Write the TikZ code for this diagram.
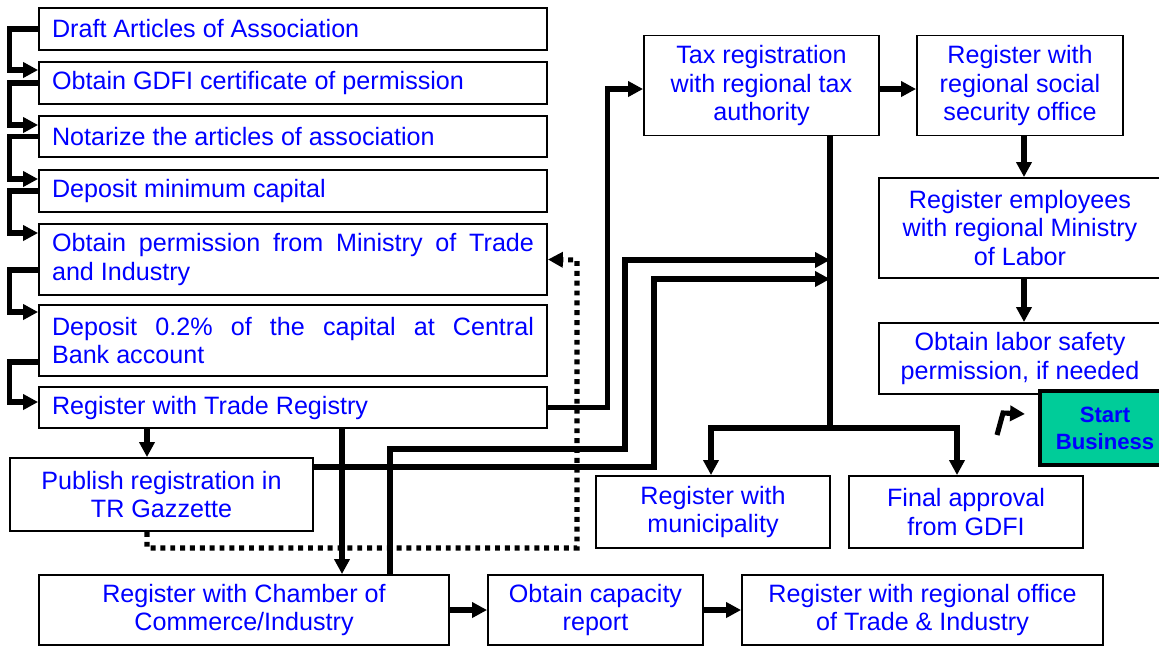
\documentclass[tikz,border=0pt]{standalone}
\usepackage{fontspec}
\setmainfont{Liberation Sans}
\usetikzlibrary{arrows.meta}
\definecolor{stepblue}{RGB}{0,0,255}
\definecolor{startgreen}{RGB}{0,204,153}
\tikzset{
  box/.style={draw, line width=1.1pt, fill=white, text=stepblue, inner sep=0pt,
    font=\fontsize{14.3}{16.4}\selectfont},
  leftbox/.style={box, minimum width=10.16cm, text width=9.64cm, align=justify},
  midbox/.style={box, align=center},
  startbox/.style={draw, line width=2.3pt, fill=startgreen, text=stepblue,
    align=center, inner sep=0pt, minimum width=2.6cm, minimum height=1.48cm,
    font=\fontsize{12.6}{15.3}\selectfont\bfseries},
  flow/.style={line width=2.9pt, -{Triangle[length=8.5pt,width=8.5pt]}},
  plainline/.style={line width=2.9pt},
  dotflow/.style={line width=2.9pt, dash pattern=on 2.8pt off 2.8pt,
    -{Triangle[length=8.5pt,width=8.5pt]}},
}
\begin{document}
\begin{tikzpicture}[x=0.02cm, y=-0.02cm]
  \useasboundingbox (0,0) rectangle (1159,647);
  % left chain
  \node[leftbox, minimum height=0.84cm] (draft) at (293,29) {Draft Articles of Association};
  \node[leftbox, minimum height=0.84cm] (gdfi) at (293,83) {Obtain GDFI certificate of permission};
  \node[leftbox, minimum height=0.82cm] (notary) at (293,136.5) {Notarize the articles of association};
  \node[leftbox, minimum height=0.84cm] (capital) at (293,191) {Deposit minimum capital};
  \node[leftbox, minimum height=1.42cm] (ministry) at (293,259.5) {Obtain permission from Ministry of Trade\linebreak and Industry};
  \node[leftbox, minimum height=1.42cm] (bank) at (293,340.5) {Deposit 0.2\% of the capital at Central\linebreak Bank account};
  \node[leftbox, minimum height=0.82cm] (trade) at (293,407.5) {Register with Trade Registry};
  % lower row
  \node[midbox, minimum width=6.06cm, minimum height=1.46cm] (gazette) at (161.5,494.5) {Publish registration in\\TR Gazzette};
  \node[midbox, minimum width=8.2cm, minimum height=1.4cm] (chamber) at (244,610) {Register with Chamber of\\Commerce/Industry};
  \node[midbox, minimum width=4.3cm, minimum height=1.4cm] (capacity) at (595.5,610) {Obtain capacity\\report};
  \node[midbox, minimum width=7.22cm, minimum height=1.4cm] (office) at (922.5,610) {Register with regional office\\of Trade \& Industry};
  \node[midbox, minimum width=4.68cm, minimum height=1.44cm] (muni) at (713,512) {Register with\\municipality};
  \node[midbox, minimum width=4.68cm, minimum height=1.44cm] (final) at (966,512) {Final approval\\from GDFI};
  % right part
  \node[midbox, minimum width=4.7cm, minimum height=2.0cm] (tax) at (761.5,85.5) {Tax registration\\with regional tax\\authority};
  \node[midbox, minimum width=4.12cm, minimum height=2.0cm] (social) at (1020,85.5) {Register with\\regional social\\security office};
  \node[midbox, minimum width=5.64cm, minimum height=2.0cm] (staff) at (1020,228) {Register employees\\with regional Ministry\\of Labor};
  \node[midbox, minimum width=5.64cm, minimum height=1.42cm] (safety) at (1020,358.5) {Obtain labor safety\\permission, if needed};
  \node[startbox] (start) at (1105,428) {Start\\Business};
  \coordinate (hub) at (830,428);
  \coordinate (in1) at (830,260);
  \coordinate (in2) at (830,279);
  \coordinate (k0) at (997,435);
  \coordinate (k1) at (1003,413);
  \coordinate (k2) at (1025,414);
  \draw[flow] (draft.west) -- ++(-29,0) |- (gdfi.west |- 0,70);
  \draw[flow] (gdfi.west) -- ++(-29,0) |- (notary.west |- 0,125);
  \draw[flow] (notary.west) -- ++(-29,0) |- (capital.west |- 0,179);
  \draw[flow] (capital.west) -- ++(-29,0) |- (ministry.west |- 0,233);
  \draw[flow] (ministry.west |- 0,270) -- ++(-29,0) |- (bank.west |- 0,312);
  \draw[flow] (bank.west |- 0,362) -- ++(-29,0) |- (trade.west |- 0,402);
  \draw[flow] (trade.south -| 147,0) -- (gazette.north -| 147,0);
  \draw[flow] (trade.south -| 342,0) -- (chamber.north -| 342,0);
  \draw[flow] (trade.east) -- ++(60,0) |- (tax.west |- 0,89);
  \draw[flow] (tax.east |- 0,89) -- (social.west |- 0,89);
  \draw[flow] (social.south -| 1024,0) -- (staff.north -| 1024,0);
  \draw[flow] (staff.south -| 1024,0) -- (safety.north -| 1024,0);
  \draw[plainline] (tax.south -| hub) -- (hub);
  \draw[flow] (hub) -| (muni.north -| 711,0);
  \draw[flow] (hub) -| (final.north -| 957,0);
  \draw[flow] (chamber.north -| 390,0) |- (625,449) |- (in1);
  \draw[flow] (gazette.east |- 0,467) -- (654,467) |- (in2);
  \draw[dotflow] (gazette.south -| 147,0) -- (147,548) -| (577,260) -- (ministry.east);
  \draw[flow] (chamber.east) -- (capacity.west);
  \draw[flow] (capacity.east) -- (office.west);
  \draw[flow] (k0) -- (k1) -- (k2);
\end{tikzpicture}
\end{document}
